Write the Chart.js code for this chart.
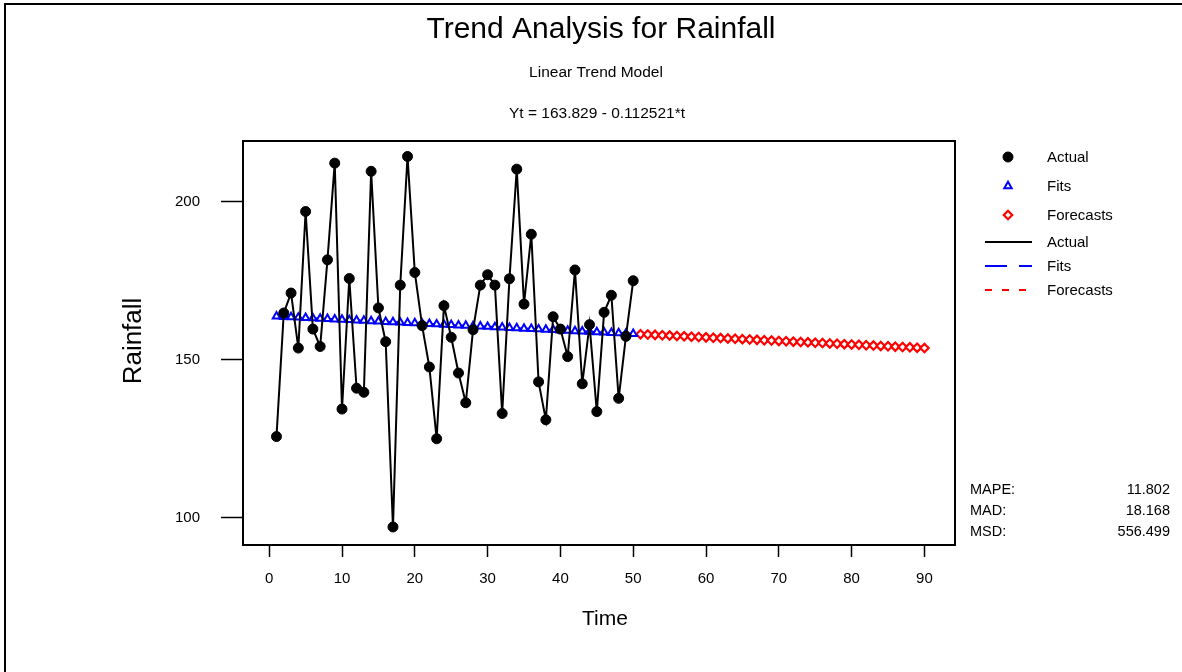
<!DOCTYPE html>
<html>
<head>
<meta charset="utf-8">
<title>Trend Analysis for Rainfall</title>
<script src="https://cdn.jsdelivr.net/npm/chart.js@4.4.1/dist/chart.umd.min.js"></script>
<style>
    html, body { margin: 0; padding: 0; background: #fff; }
    #wrap { width: 1182px; height: 672px; }
</style>
</head>
<body>
<div id="wrap"><canvas id="trendChart" width="1182" height="672"></canvas></div>
<script>
// Rainfall, t = 1..50
const actual = [
    125.7, 164.8, 171.1, 153.7, 196.9, 159.7, 154.2, 181.6, 212.2, 134.4,
    175.7, 141.0, 139.7, 209.6, 166.4, 155.7, 97.1, 173.6, 214.3, 177.6,
    160.8, 147.7, 125.0, 167.1, 157.1, 145.8, 136.4, 159.5, 173.6, 176.9,
    173.6, 133.0, 175.6, 210.3, 167.6, 189.7, 143.0, 131.0, 163.6, 159.7,
    151.0, 178.4, 142.4, 161.1, 133.6, 165.0, 170.4, 137.8, 157.4, 175.0
];

// Fitted trend values, t = 1..50
const fits = [
    163.72, 163.60, 163.49, 163.38, 163.27, 163.15, 163.04, 162.93, 162.82, 162.70,
    162.59, 162.48, 162.37, 162.25, 162.14, 162.03, 161.92, 161.80, 161.69, 161.58,
    161.47, 161.35, 161.24, 161.13, 161.02, 160.90, 160.79, 160.68, 160.57, 160.45,
    160.34, 160.23, 160.12, 160.00, 159.89, 159.78, 159.67, 159.55, 159.44, 159.33,
    159.22, 159.10, 158.99, 158.88, 158.77, 158.65, 158.54, 158.43, 158.32, 158.20
];

// Forecasts, t = 51..90
const forecasts = [
    158.09, 157.98, 157.87, 157.75, 157.64, 157.53, 157.42, 157.30, 157.19, 157.08,
    156.97, 156.85, 156.74, 156.63, 156.52, 156.40, 156.29, 156.18, 156.07, 155.95,
    155.84, 155.73, 155.62, 155.50, 155.39, 155.28, 155.17, 155.05, 154.94, 154.83,
    154.72, 154.60, 154.49, 154.38, 154.27, 154.15, 154.04, 153.93, 153.82, 153.70
];

const firstForecastT = 51;
const xTicks = [0, 10, 20, 30, 40, 50, 60, 70, 80, 90];
const yTicks = [100, 150, 200];

const chartTitle = 'Trend Analysis for Rainfall';
const subTitle = 'Linear Trend Model';
const equation = 'Yt = 163.829 - 0.112521*t';
const xTitle = 'Time';
const yTitle = 'Rainfall';
const accuracyLabels = ['MAPE:', 'MAD:', 'MSD:'];
const accuracyValues = ['11.802', '18.168', '556.499'];

const FONT = '"Liberation Sans", Arial, Helvetica, sans-serif';

// Extra drawing: frame, titles, legend, accuracy measures
const decorPlugin = {
    id: 'decor',
    beforeDatasetsDraw(chart) {
        const c = chart.ctx;
        const a = chart.chartArea;
        c.save();
        c.strokeStyle = '#000';
        c.lineWidth = 2;
        c.strokeRect(a.left, a.top, a.right - a.left, a.bottom - a.top);
        c.restore();
    },
    afterDraw(chart) {
        const c = chart.ctx;
        const a = chart.chartArea;
        const cx = (a.left + a.right) / 2;
        c.save();

        // outer frame (left and top edges only)
        c.strokeStyle = '#000';
        c.lineWidth = 2;
        c.beginPath();
        c.moveTo(5, 672);
        c.lineTo(5, 4);
        c.lineTo(1182, 4);
        c.stroke();

        c.fillStyle = '#000';
        c.textAlign = 'center';
        c.textBaseline = 'alphabetic';
        c.font = '30px ' + FONT;
        c.fillText(chartTitle, cx + 2, 38);
        c.font = '15.5px ' + FONT;
        c.fillText(subTitle, cx - 3, 77);
        c.fillText(equation, cx - 2, 118);

        // axis titles
        c.textBaseline = 'middle';
        c.font = '21px ' + FONT;
        c.fillText(xTitle, cx + 6, 619);
        c.save();
        c.translate(134, 341);
        c.rotate(-Math.PI / 2);
        c.font = '26px ' + FONT;
        c.fillText(yTitle, 0, 0);
        c.restore();

        // legend
        const ds = chart.data.datasets;
        const mx = 1008, tx = 1047;
        const markerRows = [157, 186, 215];
        c.font = '15px ' + FONT;
        c.textAlign = 'left';
        markerRows.forEach((y, i) => {
            const d = ds[i];
            c.fillStyle = d.pointBackgroundColor;
            c.strokeStyle = d.borderColor;
            c.lineWidth = d.pointBorderWidth;
            Chart.helpers.drawPoint(c, {
                pointStyle: d.pointStyle,
                radius: d.legendRadius,
                borderWidth: d.pointBorderWidth
            }, mx, y);
            c.fillStyle = '#000';
            c.fillText(d.label, tx, y + 1);
        });
        const lineRows = [242, 266, 290];
        lineRows.forEach((y, i) => {
            const d = ds[i];
            c.strokeStyle = d.borderColor;
            c.lineWidth = 2;
            c.setLineDash(d.legendDash);
            c.beginPath();
            c.moveTo(985, y);
            c.lineTo(1032, y);
            c.stroke();
            c.setLineDash([]);
            c.fillStyle = '#000';
            c.fillText(d.label, tx, y + 1);
        });

        // accuracy measures
        c.font = '14.5px ' + FONT;
        const statRows = [490, 511, 532];
        statRows.forEach((y, i) => {
            c.textAlign = 'left';
            c.fillText(accuracyLabels[i], 970, y);
            c.textAlign = 'right';
            c.fillText(accuracyValues[i], 1170, y);
        });

        c.restore();
    }
};

new Chart(document.getElementById('trendChart'), {
    type: 'line',
    data: {
        datasets: [{
            label: 'Actual',
            data: actual.map((v, i) => ({ x: i + 1, y: v })),
            borderColor: '#000',
            backgroundColor: '#000',
            borderWidth: 2,
            pointStyle: 'circle',
            pointRadius: 5,
            legendRadius: 5,
            pointBorderWidth: 1,
            pointBackgroundColor: '#000',
            legendDash: [],
            tension: 0
        }, {
            label: 'Fits',
            data: fits.map((v, i) => ({ x: i + 1, y: v })),
            borderColor: '#0000ff',
            borderWidth: 2,
            borderDash: [22, 12],
            pointStyle: 'triangle',
            pointRadius: 4.3,
            legendRadius: 4.3,
            pointBorderWidth: 2,
            pointBackgroundColor: '#fff',
            legendDash: [22, 12],
            tension: 0
        }, {
            label: 'Forecasts',
            data: forecasts.map((v, i) => ({ x: firstForecastT + i, y: v })),
            borderColor: '#ff0000',
            borderWidth: 2,
            borderDash: [7, 10],
            pointStyle: 'rectRot',
            pointRadius: 4.2,
            legendRadius: 4.2,
            pointBorderWidth: 2.2,
            pointBackgroundColor: '#fff',
            legendDash: [7, 10],
            tension: 0
        }]
    },
    options: {
        responsive: false,
        animation: false,
        layout: {
            padding: { left: 0, top: 141, right: 227, bottom: 0 }
        },
        plugins: {
            legend: { display: false },
            title: { display: false },
            tooltip: { enabled: false }
        },
        scales: {
            x: {
                type: 'linear',
                min: -3.6,
                max: 94.2,
                afterFit: function(scale) { scale.height = 127; },
                afterBuildTicks: function(scale) {
                    scale.ticks = xTicks.map(v => ({ value: v }));
                },
                border: { display: false },
                grid: {
                    drawOnChartArea: false,
                    drawTicks: true,
                    tickLength: 12,
                    tickColor: '#000',
                    tickWidth: 1.5
                },
                ticks: {
                    color: '#000',
                    padding: 13,
                    maxRotation: 0,
                    font: { family: FONT, size: 15 }
                }
            },
            y: {
                min: 91.4,
                max: 219.2,
                afterFit: function(scale) { scale.width = 243; },
                afterBuildTicks: function(scale) {
                    scale.ticks = yTicks.map(v => ({ value: v }));
                },
                border: { display: false },
                grid: {
                    drawOnChartArea: false,
                    drawTicks: true,
                    tickLength: 22,
                    tickColor: '#000',
                    tickWidth: 1.5
                },
                ticks: {
                    color: '#000',
                    padding: 21,
                    font: { family: FONT, size: 15 }
                }
            }
        }
    },
    plugins: [decorPlugin]
});
</script>
</body>
</html>
